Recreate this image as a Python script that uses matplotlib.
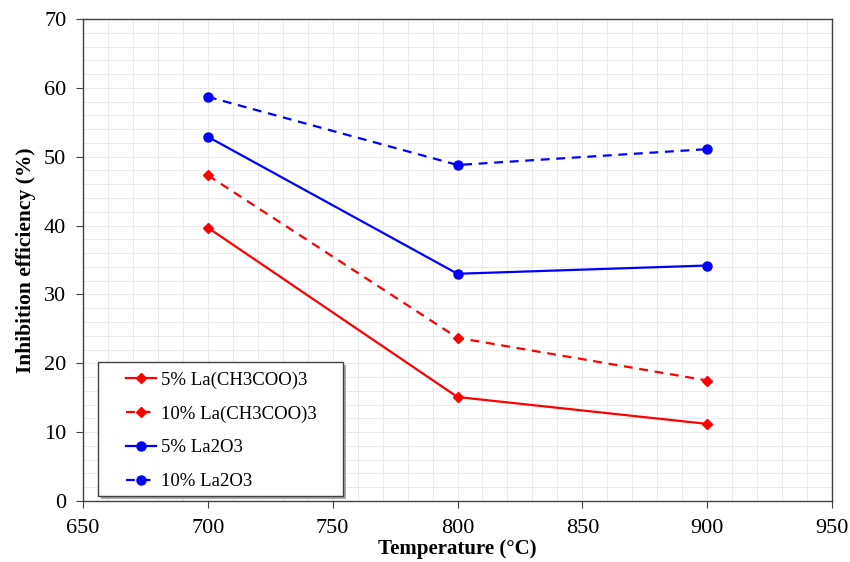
import matplotlib
matplotlib.use("Agg")
import matplotlib.pyplot as plt
import matplotlib.transforms as mtransforms
from matplotlib.patches import Rectangle
from matplotlib.ticker import MultipleLocator

temps = [700, 800, 900]
ac5 = [39.7, 15.1, 11.2]
ac10 = [47.3, 23.7, 17.5]
ox5 = [52.9, 33.0, 34.2]
ox10 = [58.7, 48.8, 51.1]
labels = ["5% La(CH3COO)3", "10% La(CH3COO)3", "5% La2O3", "10% La2O3"]

plt.rcParams["font.family"] = ["Liberation Serif", "DejaVu Serif"]

fig = plt.figure(figsize=(8.5, 5.62), dpi=100)
ax = fig.add_axes([83 / 850, 1 - 501 / 562, 749 / 850, 482 / 562])

ax.plot(temps, ac5, "-", color="#ff0000", marker="D", ms=5, lw=1.6, label=labels[0])
ax.plot(temps, ac10, "--", color="#ff0000", marker="D", ms=5, lw=1.6, dashes=(4, 3), label=labels[1])
ax.plot(temps, ox5, "-", color="#0000ff", marker="o", ms=6.5, lw=1.6, label=labels[2])
ax.plot(temps, ox10, "--", color="#0000ff", marker="o", ms=6.5, lw=1.6, dashes=(4, 3), label=labels[3])

ax.set_xlim(650, 950)
ax.set_ylim(0, 70)
ax.xaxis.set_major_locator(MultipleLocator(50))
ax.yaxis.set_major_locator(MultipleLocator(10))
ax.xaxis.set_minor_locator(MultipleLocator(10))
ax.yaxis.set_minor_locator(MultipleLocator(2))
ax.grid(which="both", color="#ebebeb", lw=0.7)
ax.set_axisbelow(True)
ax.tick_params(which="major", direction="out", length=5, labelsize=16, color="#404040")
ax.tick_params(axis="x", which="major", pad=8)
ax.tick_params(axis="y", which="major", pad=7)
ax.tick_params(which="minor", length=0)
for s in ax.spines.values():
    s.set_color("#404040")
    s.set_linewidth(1.0)

ax.set_xlabel("Temperature (°C)", fontsize=15, fontweight="bold", labelpad=1)
ax.set_ylabel("Inhibition efficiency (%)", fontsize=15.5, fontweight="bold", labelpad=6)

# legend box drawn by hand: Excel-style wide horizontal padding
box = (0.02, 0.0104, 0.327, 0.278)
shadow_tr = mtransforms.offset_copy(ax.transAxes, fig=fig, x=3, y=-3, units="dots")
ax.add_patch(Rectangle(box[:2], box[2], box[3], transform=shadow_tr,
                       facecolor="#a8a8a8", edgecolor="none", zorder=4.4, clip_on=False))
ax.add_patch(Rectangle(box[:2], box[2], box[3], transform=ax.transAxes,
                       facecolor="white", edgecolor="#404040", lw=1.0, zorder=4.5, clip_on=False))

leg = ax.legend(loc="upper left", bbox_to_anchor=(0.0574, 0.269), frameon=False,
                fontsize=13.5, handlelength=1.6, handletextpad=0.25,
                labelspacing=0.89, borderpad=0, borderaxespad=0)
leg.set_zorder(5)

fig.savefig("out.png", dpi=100)
